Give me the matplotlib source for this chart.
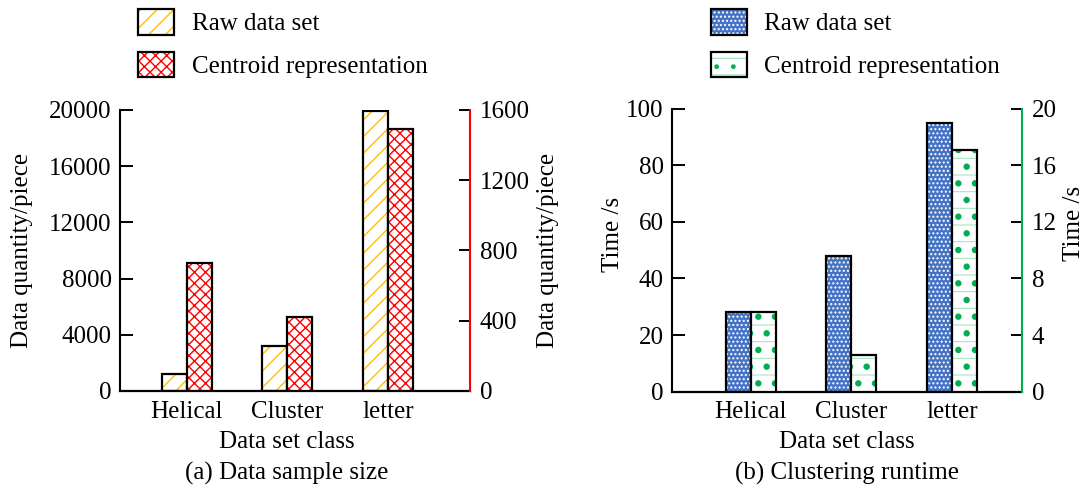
import matplotlib
matplotlib.use('Agg')
import matplotlib.pyplot as plt
import numpy as np
from matplotlib.legend_handler import HandlerTuple

# ---------------- data ----------------
categories = ['Helical', 'Cluster', 'letter']
size_raw = [1200, 3200, 19900]          # left axis (a)
size_centroid = [730, 420, 1490]        # right axis (a)
time_raw = [28, 48, 95]                 # left axis (b)
time_centroid = [5.6, 2.6, 17.1]        # right axis (b)

size_left_ticks = [0, 4000, 8000, 12000, 16000, 20000]
size_right_ticks = [0, 400, 800, 1200, 1600]
time_left_ticks = [0, 20, 40, 60, 80, 100]
time_right_ticks = [0, 4, 8, 12, 16, 20]

series_labels = ['Raw data set', 'Centroid representation']

# ---------------- style ----------------
plt.rcParams['font.family'] = ['Liberation Serif', 'DejaVu Serif']
plt.rcParams['font.size'] = 18
plt.rcParams['hatch.linewidth'] = 1.0

GOLD = '#FFC000'
RED = '#FF0000'
BLUE = '#4472C4'
GREEN = '#00B050'
LGREEN = '#A8E6C0'

fig = plt.figure(figsize=(10.9, 4.91), dpi=100)


def layer(ax, x, h, w, face, hatch, hcolor, hlw):
    with plt.rc_context({'hatch.linewidth': hlw}):
        b = ax.bar(x, h, w, facecolor=face, edgecolor=hcolor, linewidth=0,
                   hatch=hatch, zorder=2)
    for p in b:
        if hasattr(p, 'set_hatch_linewidth'):
            p.set_hatch_linewidth(hlw)
    return b


def outline(ax, x, h, w):
    return ax.bar(x, h, w, facecolor='none', edgecolor='black',
                  linewidth=1.6, zorder=3)


def style_axes(ax, ax2, right_color, xlim, ylim, ylim2, lt, rt):
    ax.set_xlim(*xlim)
    ax.set_ylim(*ylim)
    ax2.set_ylim(*ylim2)
    ax.set_yticks(lt)
    ax2.set_yticks(rt)
    for s in ['top', 'right']:
        ax.spines[s].set_visible(False)
    for s in ['top', 'left', 'bottom']:
        ax2.spines[s].set_visible(False)
    ax.spines['left'].set_linewidth(1.5)
    ax.spines['bottom'].set_linewidth(1.6)
    ax2.spines['right'].set_linewidth(1.5)
    ax2.spines['right'].set_color(right_color)
    ax.tick_params(axis='y', direction='in', length=9, width=1.4, pad=6)
    ax2.tick_params(axis='y', direction='in', length=8, width=1.4, pad=7,
                    colors='black')
    ax.tick_params(axis='x', length=0, pad=7)
    ax.set_xticks(range(len(categories)))
    ax.set_xticklabels(categories)


x = np.arange(len(categories))
bw = 0.248

# ================= (a) =================
axA = fig.add_axes([0.1101, 0.2037, 0.3211, 0.5723])
axA2 = axA.twinx()
style_axes(axA, axA2, RED, (-0.662, 2.814), (0, 20000), (0, 1600),
           size_left_ticks, size_right_ticks)

a1 = layer(axA, x - bw / 2, size_raw, bw, 'white', '//', GOLD, 1.0)
a1o = outline(axA, x - bw / 2, size_raw, bw)
a2 = layer(axA2, x + bw / 2, size_centroid, bw, 'white', 'xxx', RED, 1.0)
a2o = outline(axA2, x + bw / 2, size_centroid, bw)

axA.set_ylabel('Data quantity/piece')
axA.yaxis.set_label_coords(-0.28, 0.5)
axA.yaxis.label.set_va('center')
axA2.set_ylabel('Data quantity/piece', rotation=90)
axA2.yaxis.set_label_coords(1.223, 0.5)
axA2.yaxis.label.set_va('center')
axA.set_xlabel('Data set class')
axA.xaxis.set_label_coords(0.477, -0.18)
axA.xaxis.label.set_va('center')
axA.text(0.477, -0.295, '(a) Data sample size', transform=axA.transAxes,
         ha='center', va='center')

# ================= (b) =================
axB = fig.add_axes([0.6165, 0.2023, 0.3211, 0.5767])
axB2 = axB.twinx()
style_axes(axB, axB2, GREEN, (-0.78, 2.695), (0, 100), (0, 20),
           time_left_ticks, time_right_ticks)

b1 = layer(axB, x - bw / 2, time_raw, bw, BLUE, '....', 'white', 1.0)
b1o = outline(axB, x - bw / 2, time_raw, bw)
b2a = layer(axB2, x + bw / 2, time_centroid, bw, 'white', '-', LGREEN, 0.8)
b2b = layer(axB2, x + bw / 2, time_centroid, bw, 'none', '.', GREEN, 2.2)
b2o = outline(axB2, x + bw / 2, time_centroid, bw)

axB.set_ylabel('Time /s')
axB.yaxis.set_label_coords(-0.169, 0.554)
axB.yaxis.label.set_va('center')
axB2.set_ylabel('Time /s', rotation=90)
axB2.yaxis.set_label_coords(1.15, 0.595)
axB2.yaxis.label.set_va('center')
axB.set_xlabel('Data set class')
axB.xaxis.set_label_coords(0.499, -0.176)
axB.xaxis.label.set_va('center')
axB.text(0.499, -0.29, '(b) Clustering runtime', transform=axB.transAxes,
         ha='center', va='center')

# ================= legends =================
leg_kw = dict(handler_map={tuple: HandlerTuple(ndivide=1, pad=0)},
              frameon=False, loc='upper left', borderpad=0, borderaxespad=0,
              handlelength=1.44, handleheight=1.2, handletextpad=0.7,
              labelspacing=0.65, bbox_transform=fig.transFigure)

fig.legend([(a1, a1o), (a2, a2o)], series_labels,
           bbox_to_anchor=(138 / 1090, 1 - 9 / 491), **leg_kw)
fig.legend([(b1, b1o), (b2a, b2b, b2o)], series_labels,
           bbox_to_anchor=(711 / 1090, 1 - 9 / 491), **leg_kw)

fig.savefig('out.png', dpi=100)
